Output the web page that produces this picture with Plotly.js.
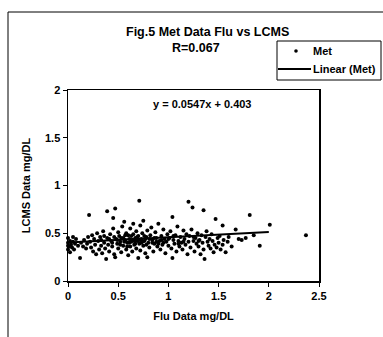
<!DOCTYPE html>
<html>
<head>
<meta charset="utf-8">
<script src="https://cdn.plot.ly/plotly-3.0.1.min.js"></script>
<style>
html,body{margin:0;padding:0;background:#fff;}
#chart{width:383px;height:337px;}
</style>
</head>
<body>
<div id="chart"></div>
<script>
// Flu data (x, mg/DL) and LCMS data (y, mg/DL)
const fluData = [
0.00,0.01,0.02,0.03,0.04,0.05,0.06,0.07,0.08,0.10,0.12,0.13,0.15,0.16,0.18,0.19,0.20,
0.21,0.22,0.23,0.24,0.25,0.26,0.27,0.28,0.29,0.30,0.31,0.32,0.33,0.34,0.35,0.36,0.37,0.38,0.39,0.39,
0.40,0.41,0.42,0.43,0.44,0.45,0.45,0.46,0.47,0.47,0.48,0.49,0.50,0.50,0.51,0.52,0.53,0.54,0.55,0.55,0.56,0.57,0.58,0.58,0.59,0.60,0.60,
0.61,0.62,0.62,0.63,0.64,0.65,0.65,0.66,0.67,0.68,0.68,0.69,0.70,0.70,0.71,0.71,0.72,0.72,0.73,0.74,0.75,0.75,0.76,0.77,0.78,0.79,0.79,0.80,
0.81,0.82,0.83,0.84,0.85,0.86,0.87,0.88,0.89,0.90,0.91,0.92,0.93,0.94,0.95,0.96,0.97,0.98,0.99,1.00,
1.01,1.02,1.03,1.04,1.04,1.05,1.06,1.07,1.08,1.09,1.10,1.11,1.12,1.13,1.14,1.15,1.16,1.17,1.18,1.19,1.20,1.20,
1.21,1.22,1.23,1.24,1.25,1.26,1.27,1.28,1.29,1.30,1.31,1.32,1.33,1.34,1.35,1.35,1.36,1.37,1.38,1.39,1.40,
1.41,1.42,1.43,1.44,1.45,1.46,1.47,1.48,1.49,1.50,1.51,1.52,1.54,1.54,1.55,1.57,1.59,1.60,
1.63,1.67,1.70,1.73,1.77,1.81,1.85,1.91,2.01,2.37,
0.33,0.36,0.41,0.44,0.46,0.49,0.52,0.53,0.56,0.57,0.59,0.61,0.63,0.64,0.66,0.67,0.69,0.71,0.73,0.74,0.76,0.77,0.78,
0.81,0.84,0.86,0.88,0.90,0.93,0.95,1.00,1.05,1.10,1.15,1.25,1.30,
0.00,0.00,0.00,0.02,0.05
];
const lcmsData = [
0.40,0.36,0.42,0.38,0.35,0.41,0.33,0.39,0.44,0.37,0.24,0.40,0.36,0.43,0.34,0.39,0.46,
0.69,0.41,0.35,0.48,0.31,0.44,0.38,0.28,0.50,0.42,0.33,0.46,0.37,0.29,0.52,0.40,0.34,0.23,0.73,0.45,
0.38,0.31,0.49,0.42,0.36,0.66,0.55,0.28,0.76,0.25,0.44,0.39,0.51,0.34,0.47,0.41,0.30,0.57,0.45,0.37,0.62,0.43,0.33,0.50,0.40,0.48,0.27,
0.44,0.36,0.55,0.41,0.31,0.49,0.60,0.38,0.45,0.34,0.52,0.42,0.24,0.47,0.84,0.39,0.58,0.32,0.44,0.50,0.37,0.63,0.42,0.29,0.46,0.25,0.53,0.40,
0.35,0.48,0.56,0.43,0.31,0.39,0.51,0.45,0.36,0.60,0.42,0.33,0.47,0.38,0.54,0.44,0.29,0.41,0.49,0.37,
0.45,0.52,0.34,0.67,0.24,0.43,0.39,0.48,0.31,0.57,0.42,0.36,0.46,0.40,0.33,0.53,0.44,0.38,0.49,0.28,0.83,0.41,
0.47,0.35,0.54,0.77,0.42,0.31,0.45,0.39,0.50,0.36,0.43,0.28,0.48,0.40,0.74,0.33,0.23,0.46,0.52,0.41,0.37,
0.44,0.34,0.49,0.42,0.30,0.38,0.65,0.35,0.45,0.40,0.47,0.33,0.58,0.38,0.43,0.30,0.41,0.46,
0.36,0.54,0.44,0.43,0.45,0.69,0.48,0.37,0.59,0.48,
0.43,0.47,0.44,0.40,0.46,0.43,0.38,0.45,0.41,0.48,0.36,0.40,0.47,0.43,0.42,0.39,0.46,0.43,0.40,0.41,0.47,0.44,0.38,
0.44,0.40,0.45,0.41,0.39,0.43,0.40,0.44,0.47,0.39,0.41,0.46,0.42,
0.33,0.45,0.37,0.30,0.46
];
const trendSlope = 0.0547;
const trendIntercept = 0.403;
const trendX = [0, 2];
const trendY = trendX.map(v => trendSlope * v + trendIntercept);

const xTickVals = [0, 0.5, 1, 1.5, 2, 2.5];
const xTickText = ["0", "0.5", "1", "1.5", "2", "2.5"];
const yTickVals = [0, 0.5, 1, 1.5, 2];
const yTickText = ["0", "0.5", "1", "1.5", "2"];
const seriesName = "Met";
const trendName = "Linear (Met)";

const FONT = "Liberation Sans, Arial, sans-serif";

const traces = [
  {
    x: fluData, y: lcmsData, type: "scatter", mode: "markers", name: seriesName,
    marker: {color: "#000", size: 4, symbol: "circle"},
    cliponaxis: false
  },
  {
    x: trendX, y: trendY, type: "scatter", mode: "lines", name: trendName,
    line: {color: "#000", width: 2}
  }
];

const axisCommon = {
  showgrid: false, zeroline: false, showline: true, mirror: true,
  linecolor: "#000", linewidth: 1.5,
  ticks: "outside", ticklen: 4, tickcolor: "#000", tickwidth: 1,
  tickfont: {family: FONT, size: 11, color: "#000", weight: "bold"},
  fixedrange: true
};

// paper-coordinate helpers (plot area: x 68..319 px, y 90..281 px)
const px = v => (v - 68) / 251;
const py = v => (281 - v) / 191;

const layout = {
  width: 383, height: 337,
  margin: {l: 68, r: 64, t: 90, b: 56},
  paper_bgcolor: "#fff", plot_bgcolor: "#fff",
  font: {family: FONT, color: "#000"},
  showlegend: false,
  xaxis: Object.assign({}, axisCommon, {
    range: [0, 2.5], tickmode: "array", tickvals: xTickVals, ticktext: xTickText,
    title: {text: "Flu Data mg/DL", font: {family: FONT, size: 11, color: "#000", weight: "bold"}, standoff: 11}
  }),
  yaxis: Object.assign({}, axisCommon, {
    range: [0, 2], tickmode: "array", tickvals: yTickVals, ticktext: yTickText,
    title: {text: "LCMS Data mg/DL", font: {family: FONT, size: 11, color: "#000", weight: "bold"}, standoff: 12}
  }),
  annotations: [
    {text: "<b>Fig.5 Met Data Flu vs LCMS</b>", xref: "paper", yref: "paper",
     x: px(207), y: py(32), xanchor: "center", yanchor: "middle", showarrow: false,
     font: {family: FONT, size: 12.5, color: "#000"}},
    {text: "<b>R=0.067</b>", xref: "paper", yref: "paper",
     x: px(196), y: py(48), xanchor: "center", yanchor: "middle", showarrow: false,
     font: {family: FONT, size: 12.5, color: "#000"}},
    {text: "<b>y = 0.0547x + 0.403</b>", xref: "paper", yref: "paper",
     x: px(202), y: py(104), xanchor: "center", yanchor: "middle", showarrow: false,
     font: {family: FONT, size: 11, color: "#000"}},
    {text: "<b>" + seriesName + "</b>", xref: "paper", yref: "paper",
     x: px(311), y: py(51), xanchor: "left", yanchor: "middle", showarrow: false,
     font: {family: FONT, size: 11, color: "#000"}},
    {text: "<b>" + trendName + "</b>", xref: "paper", yref: "paper",
     x: px(311), y: py(69), xanchor: "left", yanchor: "middle", showarrow: false,
     font: {family: FONT, size: 11, color: "#000"}}
  ],
  shapes: [
    // outer chart frame
    {type: "line", xref: "paper", yref: "paper", x0: px(8), x1: px(383), y0: py(12), y1: py(12),
     line: {color: "#000", width: 1}},
    {type: "line", xref: "paper", yref: "paper", x0: px(8), x1: px(8), y0: py(12), y1: py(337),
     line: {color: "#000", width: 1}},
    // legend box
    {type: "rect", xref: "paper", yref: "paper", x0: px(277), x1: px(381), y0: py(80), y1: py(41),
     line: {color: "#000", width: 1}, fillcolor: "#fff", layer: "above"},
    // legend marker
    {type: "circle", xref: "paper", yref: "paper", xsizemode: "pixel", ysizemode: "pixel",
     xanchor: px(296), yanchor: py(51), x0: -1.8, x1: 1.8, y0: -1.8, y1: 1.8,
     fillcolor: "#000", line: {color: "#000", width: 0}, layer: "above"},
    // legend line
    {type: "line", xref: "paper", yref: "paper", x0: px(278), x1: px(311), y0: py(69), y1: py(69),
     line: {color: "#000", width: 2}, layer: "above"}
  ]
};

Plotly.newPlot("chart", traces, layout, {displayModeBar: false, staticPlot: true});
</script>
</body>
</html>
